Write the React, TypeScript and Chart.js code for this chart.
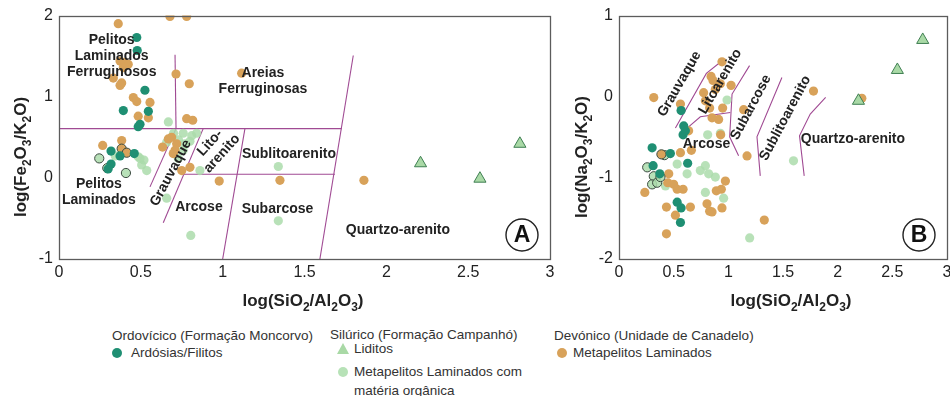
import React, { useEffect, useRef } from "react";
import { Chart, registerables } from "chart.js";

Chart.register(...registerables);

const FONT = "'Liberation Sans', Arial, Helvetica, sans-serif";

const TEAL = "#1f8f73";
const TAN = "#d8a25a";
const LIGHT = "rgba(172,220,172,0.85)";
const TRI_FILL = "#a9d9a6";
const TRI_EDGE = "#3f7f52";
const PURPLE = "#a04a93";
const INK = "#222";

type Pt = [number, number];

// ---------- Panel A: log(Fe2O3/K2O) vs log(SiO2/Al2O3) ----------
const ardosiasA: Pt[] = [
  [0.475, 1.73], [0.478, 1.57], [0.525, 1.08], [0.393, 0.83], [0.546, 0.82],
  [0.495, 0.66], [0.484, 0.63], [0.318, 0.33], [0.373, 0.27], [0.318, 0.17],
  [0.300, 0.11], [0.460, 0.30],
];
const metapelitosA: Pt[] = [
  [0.678, 1.99], [0.78, 1.99], [0.362, 1.90], [0.373, 1.44], [0.403, 1.42],
  [0.423, 1.40], [0.393, 1.36], [0.332, 1.23], [0.383, 1.17], [0.373, 1.14],
  [0.454, 0.99], [0.475, 0.94], [0.556, 0.93], [0.484, 0.76], [0.546, 0.74],
  [0.715, 1.28], [0.796, 1.16], [0.78, 0.73], [0.817, 0.71], [1.116, 1.29],
  [0.267, 0.40], [0.383, 0.46], [0.633, 0.38], [0.668, 0.48], [0.688, 0.50],
  [0.719, 0.42], [0.709, 0.34], [0.698, 0.30], [0.75, 0.09], [0.80, 0.13],
  [0.979, -0.04], [1.35, -0.03], [1.863, -0.03],
];
const metapelitosRingA: Pt[] = [[0.383, 0.36], [0.414, 0.31]];
const organicaA: Pt[] = [
  [0.344, 0.27], [0.484, 0.26], [0.519, 0.22], [0.505, 0.16], [0.536, 0.09],
  [0.495, 0.24], [0.658, 0.44], [0.759, 0.55], [0.811, 0.52], [0.841, 0.55],
  [0.770, 0.42], [0.759, 0.34], [0.729, 0.24], [0.861, 0.09], [0.668, 0.69],
  [0.658, -0.25], [0.805, -0.71], [1.34, 0.14], [1.34, -0.53], [0.70, 0.55],
  [0.73, 0.47], [0.80, 0.45],
];
const organicaRingA: Pt[] = [[0.246, 0.24], [0.409, 0.06], [0.295, 0.12]];
const liditosA: Pt[] = [[2.209, 0.18], [2.572, -0.01], [2.816, 0.42]];

// field boundaries, panel A
const boundariesA: Pt[][] = [
  [[0.709, 1.517], [0.715, 0.607]],
  [[0, 0.607], [1.727, 0.607]],
  [[0.715, 0.607], [0.556, -0.111]],
  [[0.881, 0.607], [0.637, -0.554]],
  [[0.763, 0.045], [1.686, 0.045]],
  [[1.136, 0.607], [1.0, -1.0]],
  [[1.798, 1.508], [1.594, -1.0]],
];

// ---------- Panel B: log(Na2O/K2O) vs log(SiO2/Al2O3) ----------
const ardosiasB: Pt[] = [
  [0.303, -0.63], [0.312, -0.85], [0.373, -0.95], [0.470, -0.70], [0.586, -0.47],
  [0.628, -0.82], [0.532, -1.30], [0.568, -1.37], [0.562, -1.55], [0.568, -0.17],
  [0.607, -0.42], [0.592, -0.36],
];
const metapelitosB: Pt[] = [
  [0.942, 0.43], [0.842, 0.25], [0.860, 0.20], [0.927, 0.16], [1.025, 0.14],
  [0.774, 0.05], [0.881, 0.09], [0.790, -0.05], [0.318, -0.01], [0.562, -0.09],
  [0.829, -0.14], [0.948, -0.14], [1.140, -0.16], [0.851, -0.26], [0.911, -0.28],
  [0.637, -0.42], [0.93, -0.47], [1.171, -0.73], [1.779, 0.07], [2.221, -0.02],
  [0.236, -1.18], [0.455, -0.95], [0.446, -1.06], [0.500, -1.08], [0.532, -1.14],
  [0.586, -1.14], [0.434, -1.36], [0.516, -1.46], [0.653, -1.36], [0.805, -1.32],
  [0.829, -1.41], [0.851, -1.42], [0.942, -1.37], [0.890, -1.16], [0.936, -1.14],
  [0.973, -1.04], [0.434, -1.69], [1.329, -1.52], [0.562, -0.69], [0.662, -0.66],
];
const metapelitosRingB: Pt[] = [[0.388, -0.71]];
const organicaB: Pt[] = [
  [0.532, -0.83], [0.623, -0.95], [0.790, -0.85], [0.820, -0.95], [0.790, -1.18],
  [0.957, -1.25], [0.811, -0.47], [0.927, -0.45], [0.988, -0.04], [1.195, -1.74],
  [1.596, -0.79], [0.744, -0.91], [0.425, -1.10], [0.881, -0.99],
];
const organicaRingB: Pt[] = [
  [0.258, -0.87], [0.318, -0.98], [0.303, -1.08], [0.349, -1.06], [0.379, -0.99],
  [0.416, -0.72],
];
const liditosB: Pt[] = [[2.190, -0.05], [2.546, 0.33], [2.778, 0.70]];

// field boundaries, panel B
const boundariesB: Pt[][] = [
  [[0.516, -0.386], [0.799, 0.288], [0.952, 0.453]],
  [[0.623, -0.386], [0.744, -0.247], [1.018, -0.194]],
  [[1.194, 0.383], [1.034, 0.033], [1.012, -0.494], [1.094, -0.728]],
  [[1.490, 0.238], [1.262, -0.494], [1.292, -0.975]],
  [[1.890, -0.009], [1.749, -0.214], [1.651, -0.481], [1.694, -0.975]],
];

// Field names, anchored in data units
type FieldLabel = { lines: string[]; x: number; y: number; rot?: number };
const fieldsA: FieldLabel[] = [
  { lines: ["Pelitos", "Laminados", "Ferruginosos"], x: 0.322, y: 1.5 },
  { lines: ["Areias", "Ferruginosas"], x: 1.246, y: 1.195 },
  { lines: ["Pelitos", "Laminados"], x: 0.244, y: -0.18 },
  { lines: ["Grauvaque"], x: 0.684, y: 0.06, rot: -62 },
  { lines: ["Lito-", "arenito"], x: 0.959, y: 0.365, rot: -48 },
  { lines: ["Sublitoarenito"], x: 1.405, y: 0.29 },
  { lines: ["Arcose"], x: 0.855, y: -0.36 },
  { lines: ["Subarcose"], x: 1.335, y: -0.38 },
  { lines: ["Quartzo-arenito"], x: 2.071, y: -0.64 },
];
const fieldsB: FieldLabel[] = [
  { lines: ["Grauvaque"], x: 0.553, y: 0.157, rot: -60 },
  { lines: ["Litoarenito"], x: 0.927, y: 0.189, rot: -60 },
  { lines: ["Arcose"], x: 0.80, y: -0.58 },
  { lines: ["Subarcose"], x: 1.207, y: -0.132, rot: -62 },
  { lines: ["Sublitoarenito"], x: 1.521, y: -0.263, rot: -62 },
  { lines: ["Quartzo-arenito"], x: 2.14, y: -0.52 },
];

type Rich = [string, boolean][];
const titleX: Rich = [["log(SiO", false], ["2", true], ["/Al", false], ["2", true], ["O", false], ["3", true], [")", false]];
const titleYA: Rich = [["log(Fe", false], ["2", true], ["O", false], ["3", true], ["/K", false], ["2", true], ["O)", false]];
const titleYB: Rich = [["log(Na", false], ["2", true], ["O", false], ["3", true], ["/K", false], ["2", true], ["O)", false]];

// Text with subscripts, centred on (x, y) at the baseline, optionally rotated
function drawRich(ctx: CanvasRenderingContext2D, parts: Rich, x: number, y: number, angle: number) {
  const main = `bold 17px ${FONT}`;
  const sub = `bold 12px ${FONT}`;
  let total = 0;
  for (const [t, s] of parts) {
    ctx.font = s ? sub : main;
    total += ctx.measureText(t).width;
  }
  ctx.save();
  ctx.translate(x, y);
  ctx.rotate(angle);
  ctx.fillStyle = INK;
  ctx.textAlign = "left";
  ctx.textBaseline = "alphabetic";
  let cx = -total / 2;
  for (const [t, s] of parts) {
    ctx.font = s ? sub : main;
    ctx.fillText(t, cx, s ? 5 : 0);
    cx += ctx.measureText(t).width;
  }
  ctx.restore();
}

type DecorOpts = {
  fields: FieldLabel[];
  fieldSize: number;
  yTitle: Rich;
  xTitlePos: [number, number];
  yTitlePos: [number, number];
  letter: string;
};

// Frame, field names, panel letter and axis titles
function decorPlugin(o: DecorOpts) {
  return {
    id: "panelDecor",
    afterDatasetsDraw(chart: any) {
      const ctx: CanvasRenderingContext2D = chart.ctx;
      const { left, right, top, bottom } = chart.chartArea;
      const xs = chart.scales.x;
      const ys = chart.scales.y;
      ctx.save();
      ctx.strokeStyle = "#5c5c5c";
      ctx.lineWidth = 1.3;
      ctx.strokeRect(Math.round(left) + 0.5, Math.round(top) + 0.5, Math.round(right - left), Math.round(bottom - top));
      ctx.fillStyle = INK;
      ctx.font = `bold ${o.fieldSize}px ${FONT}`;
      ctx.textAlign = "center";
      ctx.textBaseline = "middle";
      const lh = o.fieldSize + 2;
      for (const f of o.fields) {
        const px = xs.getPixelForValue(f.x);
        const py = ys.getPixelForValue(f.y);
        ctx.save();
        ctx.translate(px, py);
        if (f.rot) ctx.rotate((f.rot * Math.PI) / 180);
        const n = f.lines.length;
        f.lines.forEach((t, i) => ctx.fillText(t, 0, (i - (n - 1) / 2) * lh));
        ctx.restore();
      }
      const cx = right - 28;
      const cy = bottom - 24;
      ctx.beginPath();
      ctx.arc(cx, cy, 16, 0, Math.PI * 2);
      ctx.fillStyle = "#fff";
      ctx.fill();
      ctx.strokeStyle = INK;
      ctx.lineWidth = 1.4;
      ctx.stroke();
      ctx.fillStyle = "#111";
      ctx.font = `bold 23px ${FONT}`;
      ctx.fillText(o.letter, cx, cy + 1);
      drawRich(ctx, titleX, o.xTitlePos[0], o.xTitlePos[1], 0);
      drawRich(ctx, o.yTitle, o.yTitlePos[0], o.yTitlePos[1], -Math.PI / 2);
      ctx.restore();
    },
  };
}

const toXY = (pts: Pt[]) => pts.map(([x, y]) => ({ x, y }));

function dots(data: Pt[], color: string, order: number, ring = false) {
  return {
    data: toXY(data),
    backgroundColor: color,
    borderColor: ring ? "#3b4a40" : color,
    borderWidth: ring ? 1 : 0,
    pointRadius: 4.6,
    order,
  };
}

function triangles(data: Pt[]) {
  return {
    data: toXY(data),
    pointStyle: "triangle",
    backgroundColor: TRI_FILL,
    borderColor: TRI_EDGE,
    borderWidth: 1,
    pointRadius: 7,
    order: 0,
  };
}

function boundaries(lines: Pt[][]) {
  return lines.map((l) => ({
    data: toXY(l),
    showLine: true,
    borderColor: PURPLE,
    borderWidth: 1.1,
    pointRadius: 0,
    tension: 0,
    fill: false,
    order: 10,
  }));
}

type PanelSpec = {
  yMin: number;
  yMax: number;
  padRight: number;
  datasets: () => any[];
  decor: DecorOpts;
};

function makeConfig(p: PanelSpec): any {
  const tickFont = { size: 16, family: FONT };
  return {
    type: "scatter",
    data: { datasets: p.datasets() },
    options: {
      animation: false,
      responsive: false,
      events: [],
      layout: { padding: { left: 0, right: p.padRight, top: 15, bottom: 0 } },
      plugins: { legend: { display: false }, tooltip: { enabled: false } },
      scales: {
        x: {
          type: "linear",
          min: 0,
          max: 3,
          grid: { display: false, drawTicks: false },
          border: { display: false },
          ticks: {
            stepSize: 0.5,
            autoSkip: false,
            maxRotation: 0,
            padding: 4,
            color: INK,
            font: tickFont,
            callback: (v: number) => String(v),
          },
          afterFit: (s: any) => {
            s.height = 61;
          },
        },
        y: {
          type: "linear",
          min: p.yMin,
          max: p.yMax,
          grid: { display: false, drawTicks: false },
          border: { display: false },
          ticks: {
            stepSize: 1,
            padding: 6,
            color: INK,
            font: tickFont,
            callback: (v: number) => String(v),
          },
          afterFit: (s: any) => {
            s.width = 59;
          },
        },
      },
    },
    plugins: [decorPlugin(p.decor)],
  };
}

const panelA: PanelSpec = {
  yMin: -1,
  yMax: 2,
  padRight: 10,
  datasets: () => [
    triangles(liditosA),
    dots(ardosiasA, TEAL, 1),
    dots(metapelitosRingA, TAN, 2, true),
    dots(organicaRingA, LIGHT, 2, true),
    dots(metapelitosA, TAN, 3),
    dots(organicaA, LIGHT, 4),
    ...boundaries(boundariesA),
  ],
  decor: {
    fields: fieldsA,
    fieldSize: 14,
    yTitle: titleYA,
    xTitlePos: [303, 306],
    yTitlePos: [26, 157],
    letter: "A",
  },
};

const panelB: PanelSpec = {
  yMin: -2,
  yMax: 1,
  padRight: 13,
  datasets: () => [
    triangles(liditosB),
    dots(ardosiasB, TEAL, 1),
    dots(metapelitosRingB, TAN, 2, true),
    dots(organicaRingB, LIGHT, 2, true),
    dots(metapelitosB, TAN, 3),
    dots(organicaB, LIGHT, 4),
    ...boundaries(boundariesB),
  ],
  decor: {
    fields: fieldsB,
    fieldSize: 14,
    yTitle: titleYB,
    xTitlePos: [231, 306],
    yTitlePos: [27, 157],
    letter: "B",
  },
};

function Panel({ spec, left, width }: { spec: PanelSpec; left: number; width: number }) {
  const ref = useRef<HTMLCanvasElement>(null);
  useEffect(() => {
    if (!ref.current) return;
    const chart = new Chart(ref.current, makeConfig(spec));
    return () => chart.destroy();
  }, [spec]);
  return (
    <canvas
      ref={ref}
      width={width}
      height={320}
      style={{ position: "absolute", left, top: 0, width, height: 320 }}
    />
  );
}

const legendText: React.CSSProperties = {
  position: "absolute",
  fontFamily: FONT,
  fontSize: 13.5,
  color: "#333",
  lineHeight: "16px",
  whiteSpace: "nowrap",
};

function Dot({ x, y, color }: { x: number; y: number; color: string }) {
  return (
    <span
      style={{
        position: "absolute",
        left: x - 5,
        top: y - 5,
        width: 10,
        height: 10,
        borderRadius: "50%",
        background: color,
      }}
    />
  );
}

function Tri({ x, y }: { x: number; y: number }) {
  return (
    <svg style={{ position: "absolute", left: x - 7, top: y - 7 }} width={14} height={13}>
      <polygon points="7,1 13,12 1,12" fill={TRI_FILL} />
    </svg>
  );
}

export default function App() {
  return (
    <div
      style={{
        position: "absolute",
        left: 0,
        top: 0,
        width: 950,
        height: 396,
        overflow: "hidden",
        background: "#fff",
      }}
    >
      <Panel spec={panelA} left={0} width={560} />
      <Panel spec={panelB} left={560} width={400} />

      <div style={{ ...legendText, left: 112, top: 328 }}>Ordovícico (Formação Moncorvo)</div>
      <Dot x={117} y={353} color={TEAL} />
      <div style={{ ...legendText, left: 131, top: 345 }}>Ardósias/Filitos</div>

      <div style={{ ...legendText, left: 330, top: 327 }}>Silúrico (Formação Campanhó)</div>
      <Tri x={343} y={349} />
      <div style={{ ...legendText, left: 354, top: 341 }}>Liditos</div>
      <Dot x={343} y={372} color="#b7e2b7" />
      <div style={{ ...legendText, left: 354, top: 364 }}>Metapelitos Laminados com</div>
      <div style={{ ...legendText, left: 354, top: 383 }}>matéria orgânica</div>

      <div style={{ ...legendText, left: 554, top: 328 }}>Devónico (Unidade de Canadelo)</div>
      <Dot x={562} y={353} color={TAN} />
      <div style={{ ...legendText, left: 573, top: 345 }}>Metapelitos Laminados</div>
    </div>
  );
}
